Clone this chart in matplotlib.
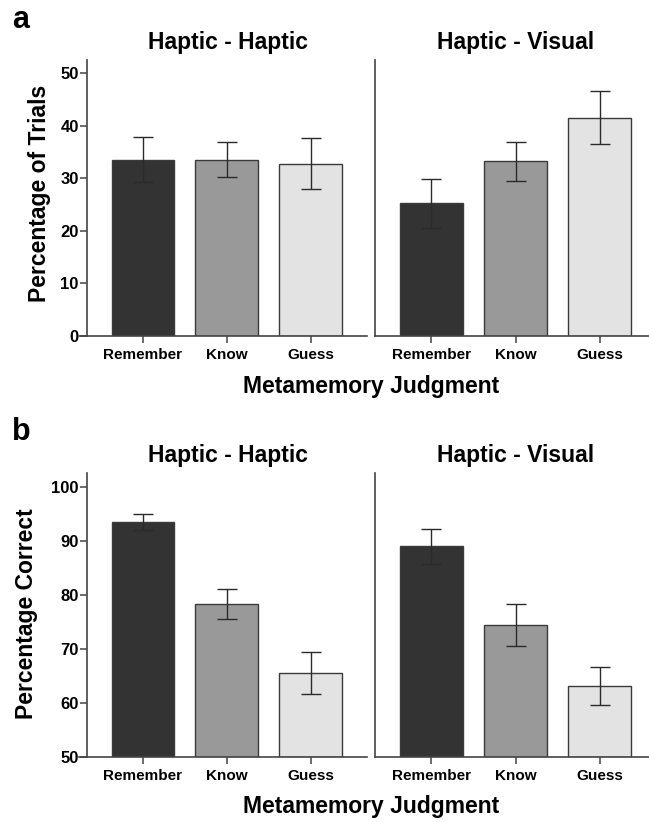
import matplotlib
matplotlib.use("Agg")
import matplotlib.pyplot as plt
import numpy as np

categories = ["Remember", "Know", "Guess"]
panel_titles = ["Haptic - Haptic", "Haptic - Visual"]

# Panel a: Percentage of Trials
trials_hh = [33.5, 33.5, 32.8]
trials_hh_hi = [37.9, 36.9, 37.6]
trials_hh_lo = [29.2, 30.2, 27.9]
trials_hv = [25.3, 33.2, 41.5]
trials_hv_hi = [29.9, 36.9, 46.6]
trials_hv_lo = [20.5, 29.5, 36.5]

# Panel b: Percentage Correct
correct_hh = [93.6, 78.4, 65.6]
correct_hh_hi = [95.1, 81.2, 69.4]
correct_hh_lo = [92.0, 75.5, 61.7]
correct_hv = [89.1, 74.4, 63.2]
correct_hv_hi = [92.3, 78.4, 66.7]
correct_hv_lo = [85.7, 70.6, 59.7]

bar_colors = ["#333333", "#999999", "#e3e3e3"]
edge = "#3a3a3a"
FONT = "Liberation Sans"

W, H = 649, 822
fig = plt.figure(figsize=(W / 100, H / 100), dpi=100)


def frac_rect(x0, x1, ytop, ybot):
    return [x0 / W, (H - ybot) / H, (x1 - x0) / W, (ybot - ytop) / H]


def draw_panel(ax, vals, hi, lo, ylim, yticks, show_y):
    x = np.arange(len(categories))
    vals = np.array(vals)
    err = [vals - np.array(lo), np.array(hi) - vals]
    ax.bar(x, vals - ylim[0], bottom=ylim[0], width=0.75, color=bar_colors,
           edgecolor=edge, linewidth=1.0, zorder=2)
    ax.errorbar(x, vals, yerr=err, fmt="none", ecolor="#2a2a2a",
                elinewidth=1.0, capsize=7.5, capthick=1.0, zorder=3)
    ax.set_ylim(*ylim)
    for s in ["top", "right"]:
        ax.spines[s].set_visible(False)
    for s in ["left", "bottom"]:
        ax.spines[s].set_color("#444444")
        ax.spines[s].set_linewidth(1.2)
    ax.set_xticks(x)
    ax.set_xticklabels(categories, fontsize=11, fontweight="bold", family=FONT)
    ax.tick_params(axis="x", length=5, width=1.1, color="#444444", pad=3.5)
    if show_y:
        ax.set_xlim(-0.762, 2.667)
        ax.spines["left"].set_position(("data", -0.667))
        ax.set_yticks(yticks)
        ax.set_yticklabels([str(t) for t in yticks], fontsize=12,
                           fontweight="bold", family=FONT)
        ax.tick_params(axis="y", length=5, width=1.1, color="#444444", pad=1)
    else:
        ax.set_xlim(-0.667, 2.667)
        ax.set_yticks([])


# Panel a
ax1 = fig.add_axes(frac_rect(79, 367, 60, 336))
ax2 = fig.add_axes(frac_rect(375, 656, 60, 336))
draw_panel(ax1, trials_hh, trials_hh_hi, trials_hh_lo, (0, 52.5),
           [0, 10, 20, 30, 40, 50], True)
draw_panel(ax2, trials_hv, trials_hv_hi, trials_hv_lo, (0, 52.5),
           [], False)

# Panel b
ax3 = fig.add_axes(frac_rect(79, 367, 473.3, 757))
ax4 = fig.add_axes(frac_rect(375, 656, 473.3, 757))
draw_panel(ax3, correct_hh, correct_hh_hi, correct_hh_lo, (50, 102.6),
           [50, 60, 70, 80, 90, 100], True)
draw_panel(ax4, correct_hv, correct_hv_hi, correct_hv_lo, (50, 102.6),
           [], False)


def ftext(x, y, s, **kw):
    fig.text(x / W, 1 - y / H, s, ha="center", va="center", family=FONT,
             fontweight="bold", **kw)


# Titles
ftext(227.5, 42, panel_titles[0], fontsize=16.5)
ftext(515.5, 42, panel_titles[1], fontsize=16.5)
ftext(227.5, 455, panel_titles[0], fontsize=16.5)
ftext(515.5, 455, panel_titles[1], fontsize=16.5)

# Axis labels
ftext(40, 193, "Percentage of Trials", fontsize=16.5, rotation=90)
ftext(27, 614, "Percentage Correct", fontsize=16.5, rotation=90)
ftext(371, 386, "Metamemory Judgment", fontsize=16.5)
ftext(371, 806, "Metamemory Judgment", fontsize=16.5)

# Panel letters
ftext(21, 20, "a", fontsize=22)
ftext(21, 432, "b", fontsize=22)

fig.savefig("out.png", dpi=100)
